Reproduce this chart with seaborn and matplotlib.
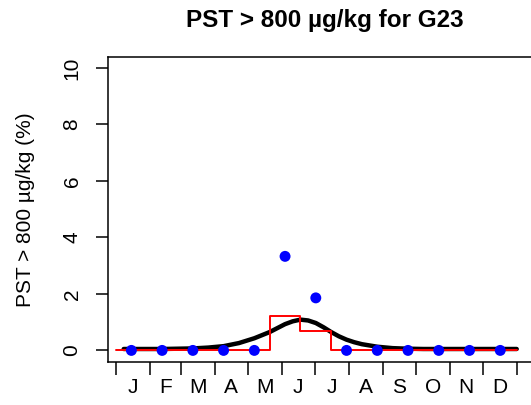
import numpy as np
import pandas as pd
import matplotlib
matplotlib.use("Agg")
import matplotlib.pyplot as plt
import seaborn as sns

# ---- data ----
months = ["J", "F", "M", "A", "M", "J", "J", "A", "S", "O", "N", "D"]
month_days = [31, 28, 31, 30, 31, 30, 31, 31, 30, 31, 30, 31]

# observed % per 4-week period (13 periods), plotted at period centres
period_centre_day = [14, 42, 70, 98, 126, 154, 182, 210, 238, 266, 294, 322, 350]
observed_pct = [0, 0, 0, 0, 0, 3.33, 1.86, 0, 0, 0, 0, 0, 0]

# step (period) estimate: boundaries and values
step_start_day = [0, 28, 56, 84, 112, 140, 168, 196, 224, 252, 280, 308, 336, 365]
step_pct = [0, 0, 0, 0, 0.03, 1.23, 0.68, 0, 0, 0.03, 0.03, 0.03, 0.03, 0.03]

# smooth seasonal fit
curve_day = [7, 14, 28, 42, 56, 70, 84, 98, 112, 126, 140, 154, 161, 168, 175,
             182, 189, 196, 203, 210, 217, 224, 238, 252, 266, 280, 308, 336, 365]
curve_pct = [0.05, 0.05, 0.05, 0.05, 0.06, 0.07, 0.10, 0.15, 0.26, 0.43, 0.65,
             0.93, 1.03, 1.09, 1.06, 0.97, 0.82, 0.65, 0.50, 0.38, 0.29, 0.22,
             0.13, 0.08, 0.06, 0.05, 0.05, 0.05, 0.05]

yticks = [0, 2, 4, 6, 8, 10]
title = "PST > 800 \u00b5g/kg for G23"
ylabel = "PST > 800 \u00b5g/kg (%)"

# ---- plot ----
sns.set_theme(style="white")
plt.rcParams["font.family"] = ["Liberation Sans", "DejaVu Sans"]

W, H = 531, 405
fig = plt.figure(figsize=(W / 100, H / 100), dpi=100)
left, right, top, bottom = 108, 545, 56.7, 361.7
ax = fig.add_axes([left / W, 1 - bottom / H, (right - left) / W, (bottom - top) / H])

curve_df = pd.DataFrame({"day": curve_day, "pct": curve_pct})
sns.lineplot(data=curve_df, x="day", y="pct", ax=ax, color="black", lw=3.2,
             sort=False, estimator=None, zorder=2)

step_df = pd.DataFrame({"day": step_start_day, "pct": step_pct})
sns.lineplot(data=step_df, x="day", y="pct", ax=ax, color="#FF0000", lw=1.4,
             drawstyle="steps-post", sort=False, estimator=None, zorder=3)

obs_df = pd.DataFrame({"day": period_centre_day, "pct": observed_pct})
sns.scatterplot(data=obs_df, x="day", y="pct", ax=ax, color="#0000FF", s=62,
                edgecolor="none", zorder=4)

px_per_day = (516.7 - 116) / 365
ax.set_xlim(-(116 - left) / px_per_day, (right - 116) / px_per_day)
ax.set_ylim(-0.4, 10.4)

bounds = np.concatenate([[0], np.cumsum(month_days)])
mids = (bounds[:-1] + bounds[1:]) / 2
ax.set_xticks(bounds)
ax.set_xticklabels([])
ax.set_xticks(mids, minor=True)
ax.set_xticklabels(months, minor=True, fontsize=15)
ax.tick_params(axis="x", which="major", direction="out", length=9, width=1.1,
               bottom=True, color="black")
ax.tick_params(axis="x", which="minor", length=0, pad=12, colors="black")

ax.set_yticks(yticks)
ax.set_yticklabels([str(v) for v in yticks], rotation=90, va="center", fontsize=15)
ax.tick_params(axis="y", which="major", direction="out", length=9, width=1.1,
               left=True, pad=10, colors="black")

ax.set_xlabel("")
ax.set_ylabel(ylabel, fontsize=15, labelpad=20, color="black")

for s in ax.spines.values():
    s.set_color("black")
    s.set_linewidth(1.1)

fig.text(325 / W, 1 - 20 / H, title, ha="center", va="center",
         fontsize=17.5, fontweight="bold", color="black")

fig.savefig("out.png", dpi=100)
